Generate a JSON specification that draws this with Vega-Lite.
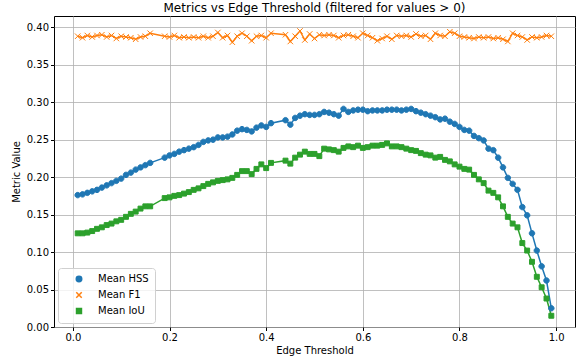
{
  "$schema": "https://vega.github.io/schema/vega-lite/v6.json",
  "width": 521,
  "height": 311,
  "autosize": "none",
  "padding": {"left": 54, "top": 16, "right": 2, "bottom": 31},
  "background": "white",
  "title": {"text": "Metrics vs Edge Threshold (filtered for values > 0)", "font": "DejaVu Sans", "fontSize": 12, "fontWeight": "normal", "color": "black", "offset": 1},
  "config": {
    "view": {"stroke": "black", "strokeWidth": 1},
    "axis": {"labelFont": "DejaVu Sans", "titleFont": "DejaVu Sans", "labelFontSize": 10, "titleFontSize": 10, "titleFontWeight": "normal", "labelColor": "black", "titleColor": "black", "tickColor": "black", "tickSize": 3.5, "labelPadding": 2, "domain": false, "gridColor": "#b0b0b0", "gridWidth": 0.8},
    "legend": {"labelFont": "DejaVu Sans", "labelFontSize": 10, "labelColor": "black", "orient": "none", "legendX": 4, "legendY": 252, "padding": 6, "strokeColor": "#d0d0d0", "fillColor": "rgba(255,255,255,0.8)", "cornerRadius": 3, "symbolSize": 30, "symbolOffset": 10, "labelOffset": 14, "rowPadding": 4, "symbolStrokeWidth": 1.5}
  },
  "data": {"values": [
    {"t":0.01,"Mean HSS":0.176,"Mean F1":0.388,"Mean IoU":0.125},
    {"t":0.02,"Mean HSS":0.177,"Mean F1":0.386,"Mean IoU":0.125},
    {"t":0.03,"Mean HSS":0.179,"Mean F1":0.389,"Mean IoU":0.126},
    {"t":0.04,"Mean HSS":0.181,"Mean F1":0.387,"Mean IoU":0.128},
    {"t":0.05,"Mean HSS":0.183,"Mean F1":0.389,"Mean IoU":0.131},
    {"t":0.06,"Mean HSS":0.186,"Mean F1":0.390,"Mean IoU":0.133},
    {"t":0.07,"Mean HSS":0.189,"Mean F1":0.387,"Mean IoU":0.136},
    {"t":0.08,"Mean HSS":0.192,"Mean F1":0.389,"Mean IoU":0.138},
    {"t":0.09,"Mean HSS":0.195,"Mean F1":0.385,"Mean IoU":0.141},
    {"t":0.10,"Mean HSS":0.198,"Mean F1":0.388,"Mean IoU":0.143},
    {"t":0.11,"Mean HSS":0.203,"Mean F1":0.387,"Mean IoU":0.147},
    {"t":0.12,"Mean HSS":0.206,"Mean F1":0.386,"Mean IoU":0.151},
    {"t":0.13,"Mean HSS":0.210,"Mean F1":0.384,"Mean IoU":0.154},
    {"t":0.14,"Mean HSS":0.213,"Mean F1":0.387,"Mean IoU":0.158},
    {"t":0.15,"Mean HSS":0.216,"Mean F1":0.388,"Mean IoU":0.161},
    {"t":0.16,"Mean HSS":0.219,"Mean F1":0.392,"Mean IoU":0.161},
    {"t":0.19,"Mean HSS":0.226,"Mean F1":0.388,"Mean IoU":0.172},
    {"t":0.20,"Mean HSS":0.229,"Mean F1":0.387,"Mean IoU":0.173},
    {"t":0.21,"Mean HSS":0.231,"Mean F1":0.389,"Mean IoU":0.175},
    {"t":0.22,"Mean HSS":0.234,"Mean F1":0.386,"Mean IoU":0.176},
    {"t":0.23,"Mean HSS":0.236,"Mean F1":0.387,"Mean IoU":0.178},
    {"t":0.24,"Mean HSS":0.238,"Mean F1":0.386,"Mean IoU":0.180},
    {"t":0.25,"Mean HSS":0.240,"Mean F1":0.387,"Mean IoU":0.183},
    {"t":0.26,"Mean HSS":0.243,"Mean F1":0.386,"Mean IoU":0.185},
    {"t":0.27,"Mean HSS":0.247,"Mean F1":0.388,"Mean IoU":0.188},
    {"t":0.28,"Mean HSS":0.249,"Mean F1":0.386,"Mean IoU":0.191},
    {"t":0.29,"Mean HSS":0.250,"Mean F1":0.388,"Mean IoU":0.193},
    {"t":0.30,"Mean HSS":0.253,"Mean F1":0.393,"Mean IoU":0.195},
    {"t":0.31,"Mean HSS":0.253,"Mean F1":0.386,"Mean IoU":0.196},
    {"t":0.32,"Mean HSS":0.254,"Mean F1":0.389,"Mean IoU":0.197},
    {"t":0.33,"Mean HSS":0.257,"Mean F1":0.380,"Mean IoU":0.199},
    {"t":0.34,"Mean HSS":0.262,"Mean F1":0.388,"Mean IoU":0.203},
    {"t":0.35,"Mean HSS":0.264,"Mean F1":0.392,"Mean IoU":0.208},
    {"t":0.36,"Mean HSS":0.263,"Mean F1":0.388,"Mean IoU":0.208},
    {"t":0.37,"Mean HSS":0.261,"Mean F1":0.382,"Mean IoU":0.204},
    {"t":0.38,"Mean HSS":0.266,"Mean F1":0.388,"Mean IoU":0.211},
    {"t":0.39,"Mean HSS":0.269,"Mean F1":0.389,"Mean IoU":0.217},
    {"t":0.40,"Mean HSS":0.267,"Mean F1":0.386,"Mean IoU":0.212},
    {"t":0.41,"Mean HSS":0.272,"Mean F1":0.392,"Mean IoU":0.219},
    {"t":0.44,"Mean HSS":0.276,"Mean F1":0.390,"Mean IoU":0.222},
    {"t":0.45,"Mean HSS":0.270,"Mean F1":0.381,"Mean IoU":0.218},
    {"t":0.46,"Mean HSS":0.279,"Mean F1":0.388,"Mean IoU":0.226},
    {"t":0.47,"Mean HSS":0.282,"Mean F1":0.395,"Mean IoU":0.230},
    {"t":0.48,"Mean HSS":0.284,"Mean F1":0.383,"Mean IoU":0.234},
    {"t":0.49,"Mean HSS":0.283,"Mean F1":0.391,"Mean IoU":0.231},
    {"t":0.50,"Mean HSS":0.283,"Mean F1":0.385,"Mean IoU":0.231},
    {"t":0.51,"Mean HSS":0.284,"Mean F1":0.390,"Mean IoU":0.228},
    {"t":0.52,"Mean HSS":0.287,"Mean F1":0.389,"Mean IoU":0.238},
    {"t":0.53,"Mean HSS":0.286,"Mean F1":0.390,"Mean IoU":0.237},
    {"t":0.54,"Mean HSS":0.284,"Mean F1":0.389,"Mean IoU":0.236},
    {"t":0.55,"Mean HSS":0.282,"Mean F1":0.386,"Mean IoU":0.234},
    {"t":0.56,"Mean HSS":0.291,"Mean F1":0.389,"Mean IoU":0.239},
    {"t":0.57,"Mean HSS":0.287,"Mean F1":0.390,"Mean IoU":0.241},
    {"t":0.58,"Mean HSS":0.289,"Mean F1":0.388,"Mean IoU":0.240},
    {"t":0.59,"Mean HSS":0.290,"Mean F1":0.386,"Mean IoU":0.242},
    {"t":0.60,"Mean HSS":0.290,"Mean F1":0.392,"Mean IoU":0.239},
    {"t":0.61,"Mean HSS":0.288,"Mean F1":0.389,"Mean IoU":0.240},
    {"t":0.62,"Mean HSS":0.289,"Mean F1":0.386,"Mean IoU":0.242},
    {"t":0.63,"Mean HSS":0.289,"Mean F1":0.382,"Mean IoU":0.242},
    {"t":0.64,"Mean HSS":0.289,"Mean F1":0.385,"Mean IoU":0.243},
    {"t":0.65,"Mean HSS":0.290,"Mean F1":0.388,"Mean IoU":0.245},
    {"t":0.66,"Mean HSS":0.290,"Mean F1":0.384,"Mean IoU":0.241},
    {"t":0.67,"Mean HSS":0.290,"Mean F1":0.389,"Mean IoU":0.241},
    {"t":0.68,"Mean HSS":0.289,"Mean F1":0.388,"Mean IoU":0.240},
    {"t":0.69,"Mean HSS":0.290,"Mean F1":0.389,"Mean IoU":0.238},
    {"t":0.70,"Mean HSS":0.291,"Mean F1":0.387,"Mean IoU":0.236},
    {"t":0.71,"Mean HSS":0.288,"Mean F1":0.391,"Mean IoU":0.235},
    {"t":0.72,"Mean HSS":0.286,"Mean F1":0.388,"Mean IoU":0.232},
    {"t":0.73,"Mean HSS":0.284,"Mean F1":0.389,"Mean IoU":0.230},
    {"t":0.74,"Mean HSS":0.282,"Mean F1":0.384,"Mean IoU":0.229},
    {"t":0.75,"Mean HSS":0.280,"Mean F1":0.392,"Mean IoU":0.226},
    {"t":0.76,"Mean HSS":0.277,"Mean F1":0.389,"Mean IoU":0.227},
    {"t":0.77,"Mean HSS":0.278,"Mean F1":0.388,"Mean IoU":0.223},
    {"t":0.78,"Mean HSS":0.274,"Mean F1":0.394,"Mean IoU":0.221},
    {"t":0.79,"Mean HSS":0.271,"Mean F1":0.392,"Mean IoU":0.217},
    {"t":0.80,"Mean HSS":0.267,"Mean F1":0.388,"Mean IoU":0.214},
    {"t":0.81,"Mean HSS":0.263,"Mean F1":0.387,"Mean IoU":0.211},
    {"t":0.82,"Mean HSS":0.262,"Mean F1":0.386,"Mean IoU":0.210},
    {"t":0.83,"Mean HSS":0.255,"Mean F1":0.385,"Mean IoU":0.203},
    {"t":0.84,"Mean HSS":0.252,"Mean F1":0.387,"Mean IoU":0.197},
    {"t":0.85,"Mean HSS":0.249,"Mean F1":0.386,"Mean IoU":0.192},
    {"t":0.86,"Mean HSS":0.238,"Mean F1":0.387,"Mean IoU":0.182},
    {"t":0.87,"Mean HSS":0.236,"Mean F1":0.385,"Mean IoU":0.179},
    {"t":0.88,"Mean HSS":0.226,"Mean F1":0.386,"Mean IoU":0.173},
    {"t":0.89,"Mean HSS":0.213,"Mean F1":0.384,"Mean IoU":0.161},
    {"t":0.90,"Mean HSS":0.199,"Mean F1":0.381,"Mean IoU":0.147},
    {"t":0.91,"Mean HSS":0.191,"Mean F1":0.392,"Mean IoU":0.138},
    {"t":0.92,"Mean HSS":0.183,"Mean F1":0.389,"Mean IoU":0.133},
    {"t":0.93,"Mean HSS":0.160,"Mean F1":0.387,"Mean IoU":0.112},
    {"t":0.94,"Mean HSS":0.149,"Mean F1":0.383,"Mean IoU":0.102},
    {"t":0.95,"Mean HSS":0.125,"Mean F1":0.387,"Mean IoU":0.087},
    {"t":0.96,"Mean HSS":0.102,"Mean F1":0.386,"Mean IoU":0.067},
    {"t":0.97,"Mean HSS":0.081,"Mean F1":0.387,"Mean IoU":0.053},
    {"t":0.98,"Mean HSS":0.062,"Mean F1":0.389,"Mean IoU":0.038},
    {"t":0.99,"Mean HSS":0.025,"Mean F1":0.388,"Mean IoU":0.015}
  ]},
  "transform": [{"fold": ["Mean HSS", "Mean F1", "Mean IoU"], "as": ["metric", "value"]}],
  "encoding": {
    "x": {"field": "t", "type": "quantitative", "scale": {"domain": [-0.039, 1.039], "nice": false, "zero": false},
          "axis": {"values": [0, 0.2, 0.4, 0.6, 0.8, 1.0], "format": ".1f", "title": "Edge Threshold", "titlePadding": 3}},
    "y": {"field": "value", "type": "quantitative", "scale": {"domain": [0, 0.415], "nice": false},
          "axis": {"values": [0, 0.05, 0.1, 0.15, 0.2, 0.25, 0.3, 0.35, 0.4], "format": ".2f", "title": "Metric Value", "titlePadding": 5}},
    "color": {"field": "metric", "type": "nominal",
              "scale": {"domain": ["Mean HSS", "Mean F1", "Mean IoU"], "range": ["#1f77b4", "#ff7f0e", "#2ca02c"]},
              "legend": {"title": null,
                "encode": {"symbols": {"update": {
                  "shape": {"signal": "datum.value === 'Mean HSS' ? 'M-4,0L-1,0M1,0L4,0M-1,0A1,1 0 1,0 1,0A1,1 0 1,0 -1,0Z' : datum.value === 'Mean F1' ? 'M-4,0L4,0M-1,-1L1,1M1,-1L-1,1' : 'M-4,0L4,0M-0.9,-0.9L0.9,-0.9L0.9,0.9L-0.9,0.9Z'"},
                  "stroke": {"signal": "scale('color', datum.value)"},
                  "fill": {"signal": "scale('color', datum.value)"},
                  "strokeWidth": {"value": 1.5}}}}}}
  },
  "layer": [
    {"mark": {"type": "line", "strokeWidth": 1.5}},
    {"mark": {"type": "point", "filled": true, "size": 30, "strokeWidth": 1, "opacity": 1},
     "encoding": {
       "shape": {"field": "metric", "type": "nominal", "scale": {"domain": ["Mean HSS", "Mean F1", "Mean IoU"], "range": ["M-1,0A1,1 0 1,0 1,0A1,1 0 1,0 -1,0Z", "M-1,-1L1,1M1,-1L-1,1", "M-0.9,-0.9L0.9,-0.9L0.9,0.9L-0.9,0.9Z"]}, "legend": null},
       "stroke": {"field": "metric", "type": "nominal", "scale": {"domain": ["Mean HSS", "Mean F1", "Mean IoU"], "range": ["#1f77b4", "#ff7f0e", "#2ca02c"]}, "legend": null}
     }}
  ]
}
